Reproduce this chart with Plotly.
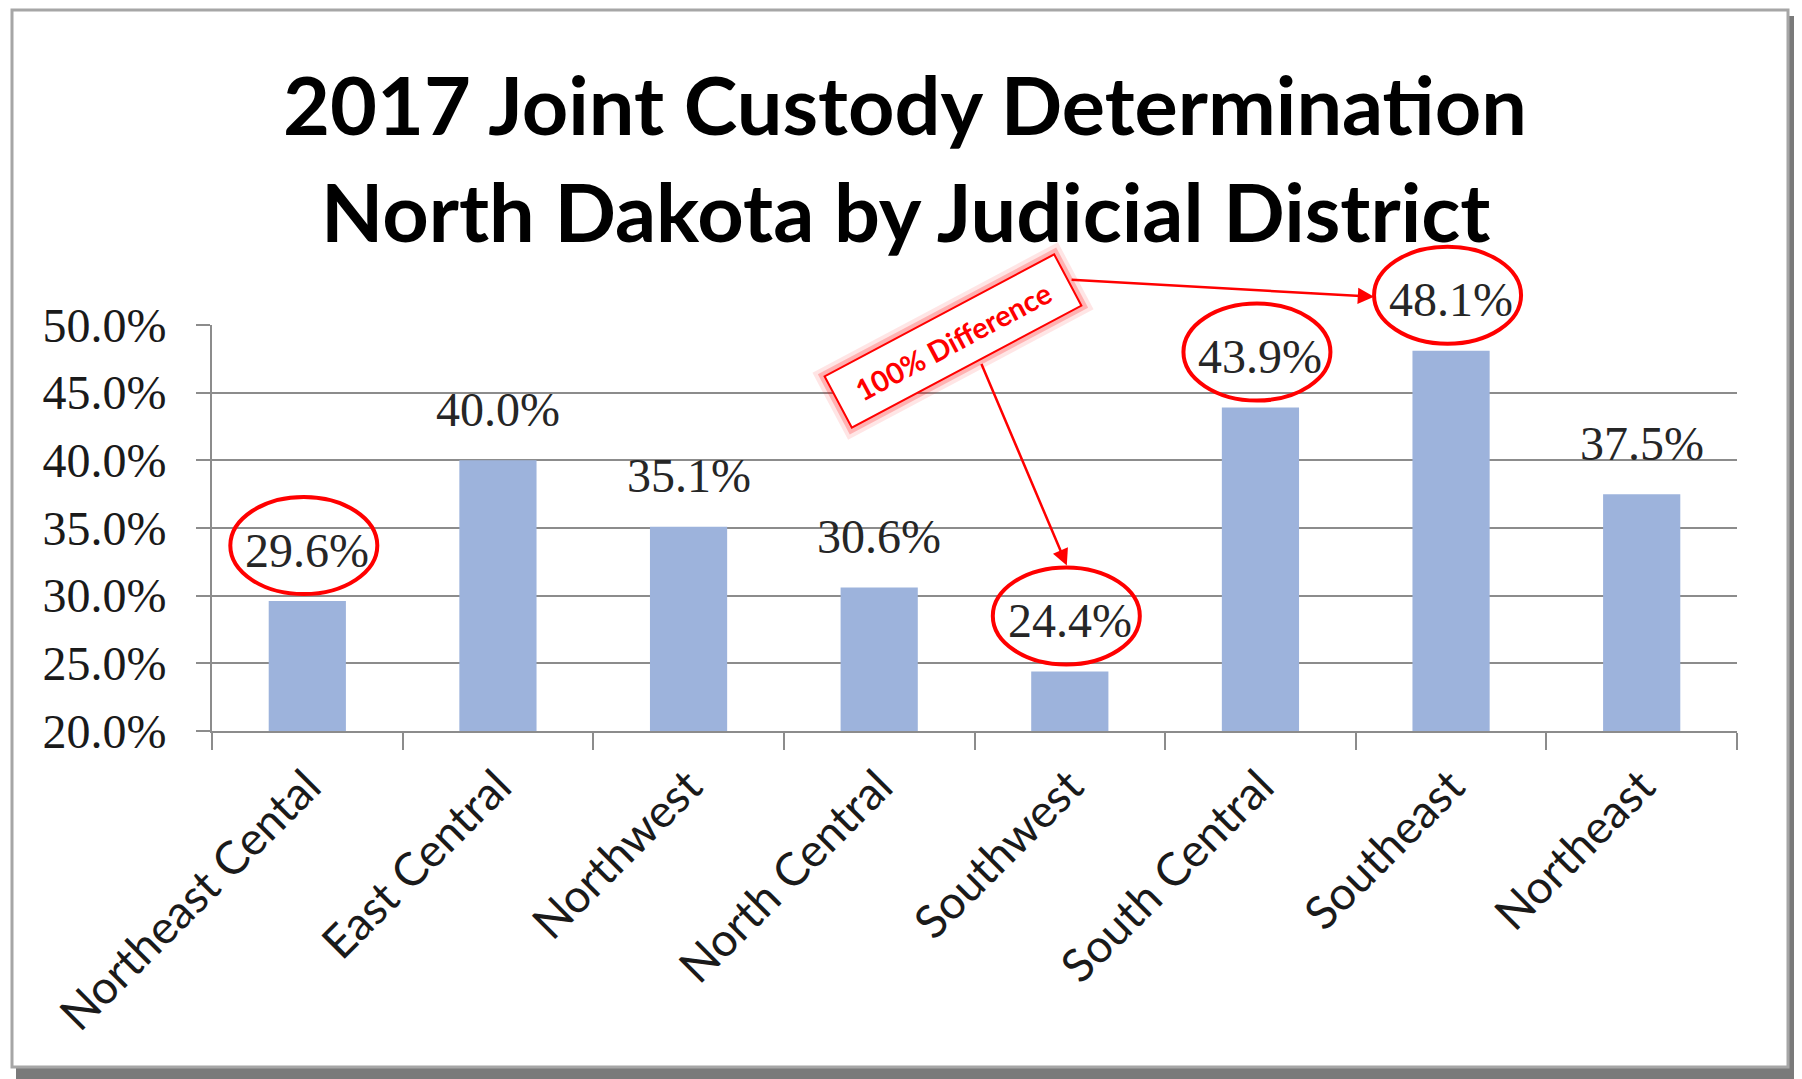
import plotly.graph_objects as go

# data
districts = ["Northeast Cental", "East Central", "Northwest", "North Central",
             "Southwest", "South Central", "Southeast", "Northeast"]
joint_pct = [29.6, 40.0, 35.1, 30.6, 24.4, 43.9, 48.1, 37.5]
circled = ["Northeast Cental", "Southwest", "South Central", "Southeast"]
title_lines = ["2017 Joint Custody Determination", "North Dakota by Judicial District"]
callout = "100% Difference"
y_range = [20, 50]

# page adds an 8px body margin, so the figure is 8px smaller than the window
OFF = 8
W, H = 1802 - OFF, 1079 - OFF
L, R, T, B = 212 - OFF, 65, 325 - OFF, 348
pw, ph = W - L - R, H - T - B


def px(x):
    # screen pixel -> paper x
    return (x - OFF - L) / pw


def py(y):
    # screen pixel -> paper y
    return (H - B - (y - OFF)) / ph


RED = "#FF0000"

fig = go.Figure(go.Bar(x=districts, y=joint_pct, marker_color="#9DB3DC",
                       marker_line_width=0, width=0.405, hoverinfo="skip"))

annos = []
for d, v in zip(districts, joint_pct):
    annos.append(dict(x=d, y=v, xref="x", yref="y", text="{:.1f}%".format(v),
                      showarrow=False, yanchor="middle", yshift=51,
                      font=dict(family="Liberation Serif", size=48, color="#262626")))

# titles
for line, yc in zip(title_lines, [104, 210]):
    annos.append(dict(x=px(W / 2 + OFF), y=py(yc), xref="paper", yref="paper", text=line,
                      showarrow=False, yanchor="middle", xanchor="center",
                      font=dict(family="Lato", size=81, color="#000000", weight="bold")))

# arrows from the callout
annos.append(dict(x="Southeast", y=joint_pct[6], xref="x", yref="y", text="",
                  showarrow=True, xshift=-77, yshift=54, ax=-304, ay=-17,
                  arrowhead=2, arrowsize=1.3, arrowwidth=2.5, arrowcolor=RED, standoff=0))
annos.append(dict(x="Southwest", y=joint_pct[4], xref="x", yref="y", text="",
                  showarrow=True, xshift=-3, yshift=106, ax=-86, ay=-203,
                  arrowhead=2, arrowsize=1.3, arrowwidth=2.5, arrowcolor=RED, standoff=0))

# callout glow + box
box = dict(x=px(953), y=py(341), xref="paper", yref="paper", showarrow=False,
           xanchor="center", yanchor="middle", textangle=-28, width=258, height=56,
           borderpad=0)
for bw, bc in [(10, "rgba(255,0,0,0.10)"), (6, "rgba(255,0,0,0.22)")]:
    annos.append(dict(box, text=" ", bordercolor=bc, borderwidth=bw,
                      bgcolor="rgba(0,0,0,0)", font=dict(size=28)))
annos.append(dict(box, text=callout, bordercolor=RED, borderwidth=2, bgcolor="white",
                  font=dict(family="Lato", size=29, color=RED, weight="bold")))

shapes = []
for d in circled:
    v = joint_pct[districts.index(d)]
    shapes.append(dict(type="circle", xref="x", yref="paper", xsizemode="pixel", ysizemode="pixel",
                       xanchor=d, yanchor=(v - y_range[0]) / (y_range[1] - y_range[0]),
                       x0=-77, x1=70, y0=7, y1=104,
                       line=dict(color=RED, width=4)))

# outer frame with shadow
shapes.append(dict(type="rect", xref="paper", yref="paper", x0=px(1789), x1=px(1803),
                   y0=py(1080), y1=py(16), fillcolor="#7a7a7a", line_width=0, layer="below"))
shapes.append(dict(type="rect", xref="paper", yref="paper", x0=px(16), x1=px(1803),
                   y0=py(1080), y1=py(1068), fillcolor="#7a7a7a", line_width=0, layer="below"))
shapes.append(dict(type="rect", xref="paper", yref="paper", x0=px(12), x1=px(1788),
                   y0=py(1067), y1=py(10), fillcolor="white",
                   line=dict(color="#a6a6a6", width=3), layer="below"))

fig.update_layout(
    width=W, height=H,
    margin=dict(l=L, r=R, t=T, b=B),
    paper_bgcolor="white", plot_bgcolor="rgba(0,0,0,0)",
    showlegend=False, annotations=annos, shapes=shapes,
)
fig.update_yaxes(range=y_range, dtick=5, tickformat=".1f", ticksuffix="%",
                 showgrid=True, gridcolor="#8c8c8c", gridwidth=2,
                 showline=True, linecolor="#8c8c8c", linewidth=2,
                 ticks="outside", ticklen=14, tickcolor="#8c8c8c", tickwidth=2,
                 ticklabelstandoff=20, zeroline=False,
                 tickfont=dict(family="Liberation Serif", size=48, color="#1a1a1a"))
fig.update_xaxes(type="category", tickangle=-45, tickson="boundaries",
                 showline=True, linecolor="#8c8c8c", linewidth=2, showgrid=False,
                 ticks="outside", ticklen=17, tickcolor="#8c8c8c", tickwidth=2,
                 ticklabelstandoff=8,
                 tickfont=dict(family="Lato", size=46, color="#1a1a1a"))

fig.write_html("out.html")
